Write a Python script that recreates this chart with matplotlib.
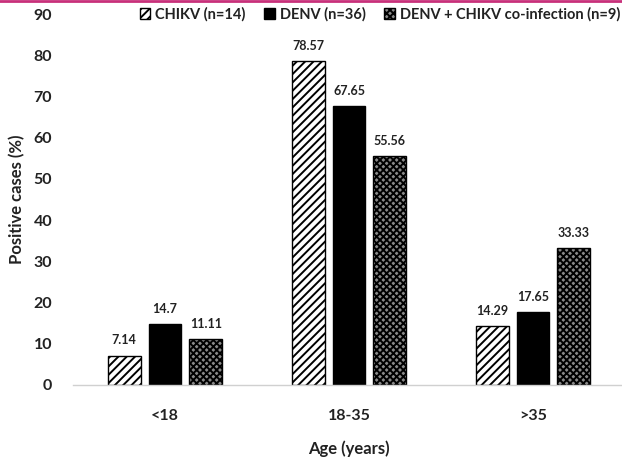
import matplotlib
matplotlib.use("Agg")
import matplotlib.pyplot as plt
import numpy as np
from matplotlib.lines import Line2D

plt.rcParams['font.family'] = ['Lato', 'DejaVu Sans']
plt.rcParams['font.weight'] = 'bold'

age_groups = ['<18', '18-35', '>35']
series_names = ['CHIKV (n=14)', 'DENV (n=36)', 'DENV + CHIKV co-infection (n=9)']
chikv = [7.14, 78.57, 14.29]
denv = [14.7, 67.65, 17.65]
coinf = [11.11, 55.56, 33.33]
value_labels = [['7.14', '78.57', '14.29'], ['14.7', '67.65', '17.65'], ['11.11', '55.56', '33.33']]

fig = plt.figure(figsize=(6.22, 4.57), dpi=100)
ax = fig.add_axes([73/622, 1-385/457, 552/622, (385-14)/457])

x = np.arange(len(age_groups))
step = 0.222
width = 0.178
plt.rcParams['hatch.linewidth'] = 1.4
styles = [dict(facecolor='white', hatch='////'),
          dict(facecolor='black', hatch=None),
          dict(facecolor='#8a8a8a', hatch='xxxxx')]
for i, (vals, st, lab) in enumerate(zip([chikv, denv, coinf], styles, series_names)):
    bars = ax.bar(x + (i - 1) * step, vals, width, edgecolor='black', linewidth=1.0,
                  label=lab, **st)
    for b, txt in zip(bars, value_labels[i]):
        ax.text(b.get_x() + b.get_width() / 2, b.get_height() + 2.2, txt,
                ha='center', va='bottom', fontsize=9, fontweight='bold', color='#222222')

ax.set_xlim(-0.5, 2.5)
ax.set_ylim(0, 90)
ax.set_yticks(range(0, 91, 10))
ax.set_xticks(x)
ax.set_xticklabels(age_groups)
for s in ['top', 'right', 'left']:
    ax.spines[s].set_visible(False)
ax.spines['bottom'].set_color('#d0d0d0')
ax.spines['bottom'].set_linewidth(1.0)
ax.tick_params(axis='both', length=0, labelsize=11.5, colors='#222222')
ax.tick_params(axis='x', pad=17)
ax.tick_params(axis='y', pad=15)
ax.set_ylabel('Positive cases (%)', fontsize=12, fontweight='bold', labelpad=6, color='#222222')
ax.set_xlabel('Age (years)', fontsize=12, fontweight='bold', labelpad=13, color='#222222')

leg = ax.legend(loc='upper left', bbox_to_anchor=(0.11, 1.035), ncol=3, frameon=False,
                fontsize=10.5, handlelength=0.75, handleheight=0.75, handletextpad=0.3,
                columnspacing=1.3, borderaxespad=0)
for t in leg.get_texts():
    t.set_color('#222222')

# thin accent rule along the top edge
fig.add_artist(Line2D([0, 1], [0.998, 0.998], transform=fig.transFigure,
                      color='#c8307a', linewidth=2))

fig.savefig('out.png', dpi=100)
